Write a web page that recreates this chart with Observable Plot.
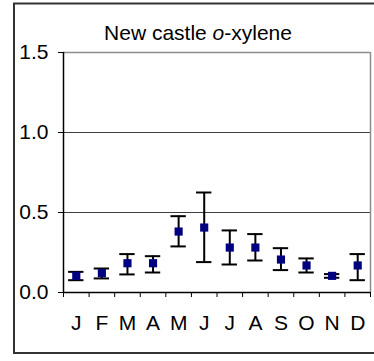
<!DOCTYPE html>
<html><head><meta charset="utf-8">
<script src="https://cdn.jsdelivr.net/npm/d3@7"></script>
<script src="https://cdn.jsdelivr.net/npm/@observablehq/plot@0.6"></script>
<style>body{margin:0;background:#fff} svg{display:block}</style>
</head><body><div id="chart"></div>
<script>
const months = ["J","F","M","A","M","J","J","A","S","O","N","D"];
const means = [0.104,0.121,0.183,0.183,0.381,0.406,0.281,0.281,0.206,0.169,0.104,0.169];
const upper = [0.129,0.150,0.240,0.227,0.477,0.625,0.388,0.365,0.277,0.213,0.115,0.240];
const lower = [0.077,0.088,0.113,0.125,0.288,0.190,0.175,0.200,0.140,0.125,0.092,0.077];
const yTicks = [0, 0.5, 1.0, 1.5];
const gridTicks = [0.5, 1.0];
const titleParts = ["New castle ", "o", "-xylene"];

const data = months.map((m, k) => ({pos: k + 0.5, mean: means[k], hi: upper[k], lo: lower[k]}));
const font = "'Liberation Sans', Arial, sans-serif";

const chart = Plot.plot({
  width: 374, height: 361,
  marginLeft: 63, marginRight: 4, marginTop: 52, marginBottom: 69,
  style: {fontFamily: font, fontSize: "21px", background: "#fff", color: "#000"},
  x: {type: "linear", domain: [0, 12], label: null},
  y: {domain: [0, 1.5], label: null},
  marks: [
    Plot.ruleY(gridTicks, {stroke: "#404040", strokeWidth: 1}),
    Plot.ruleY([1.5], {stroke: "#8c8c8c", strokeWidth: 1.5}),
    Plot.ruleX([12], {stroke: "#8c8c8c", strokeWidth: 1.5}),
    Plot.axisY({ticks: yTicks, tickFormat: d3.format(".1f"), tickSize: 5, tickPadding: 10, fontSize: 21, stroke: "#000"}),
    Plot.axisX({ticks: d3.range(13), tickFormat: () => "", tickSize: 5, stroke: "#000"}),
    Plot.axisX({ticks: months.map((m, k) => k + 0.5), tickFormat: v => months[Math.floor(v)], tickSize: 0, tickPadding: 23, fontSize: 21}),
    Plot.ruleX([0], {stroke: "#000", strokeWidth: 1.5}),
    Plot.ruleY([0], {stroke: "#000", strokeWidth: 1.5}),
    Plot.ruleX(data, {x: "pos", y1: "lo", y2: "hi", stroke: "#000", strokeWidth: 2}),
    Plot.ruleY(data, {y: "hi", x1: d => d.pos - 0.3, x2: d => d.pos + 0.3, stroke: "#000", strokeWidth: 2}),
    Plot.ruleY(data, {y: "lo", x1: d => d.pos - 0.3, x2: d => d.pos + 0.3, stroke: "#000", strokeWidth: 2}),
    Plot.dot(data, {x: "pos", y: "mean", symbol: "square", r: 4.6, fill: "#000080", stroke: "none"})
  ]
});

const svg = d3.select(chart);
svg.append("path")
  .attr("d", "M 380 3.5 H 14 V 353 H 380")
  .attr("fill", "none").attr("stroke", "#333").attr("stroke-width", 2);
const title = svg.append("text")
  .attr("x", 198).attr("y", 40)
  .attr("text-anchor", "middle")
  .attr("font-family", font).attr("font-size", 21).attr("fill", "#000");
title.append("tspan").text(titleParts[0]);
title.append("tspan").attr("font-style", "italic").text(titleParts[1]);
title.append("tspan").text(titleParts[2]);

document.getElementById("chart").append(chart);
</script>
</body></html>
